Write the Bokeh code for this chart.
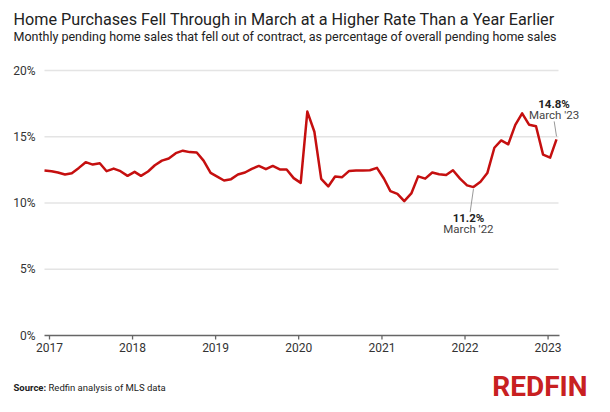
import pandas as pd
from bokeh.plotting import figure
from bokeh.models import Label, Range1d
from bokeh.core.properties import value
from bokeh.embed import file_html
from bokeh.resources import INLINE

# ---------------- data ----------------
start_month = "2017-01-01"
fallout_pct = [
    12.45, 12.40, 12.30, 12.15, 12.25, 12.65, 13.08, 12.90, 13.00, 12.40, 12.60, 12.40,  # 2017
    12.05, 12.35, 12.05, 12.38, 12.85, 13.20, 13.36, 13.76, 13.95, 13.84, 13.81, 13.20,  # 2018
    12.27, 11.97, 11.70, 11.80, 12.15, 12.30, 12.58, 12.80, 12.55, 12.80, 12.53, 12.53,  # 2019
    11.88, 11.52, 16.90, 15.38, 11.82, 11.25, 12.00, 11.95, 12.42, 12.46, 12.46, 12.47,  # 2020
    12.65, 11.83, 10.90, 10.69, 10.14, 10.72, 12.01, 11.84, 12.30, 12.17, 12.11, 12.47,  # 2021
    11.84, 11.33, 11.20, 11.61, 12.26, 14.17, 14.72, 14.43, 15.90, 16.77, 15.90, 15.79,  # 2022
    13.65, 13.42, 14.80,                                                                  # 2023
]
year_ticks = [2017, 2018, 2019, 2020, 2021, 2022, 2023]
y_ticks = [0, 5, 10, 15, 20]
y_tick_labels = ["0%", "5%", "10%", "15%", "20%"]
highlight_idx = [62, 74]   # March '22, March '23

title_text = "Home Purchases Fell Through in March at a Higher Rate Than a Year Earlier"
subtitle_text = "Monthly pending home sales that fell out of contract, as percentage of overall pending home sales"
source_bold = "Source:"
source_text = "Redfin analysis of MLS data"
brand_text = "REDFIN"

months = pd.date_range(start_month, periods=len(fallout_pct), freq="MS")
ms = [t.timestamp() * 1000 for t in months]

FONT = "Roboto"
RED = "#c50f0f"
W, H = 594, 404

# ---------------- geometry (pixels from the figure's top-left) ----------------
X0_PX, X1_PX = 44, 556     # first / last month
Y0_PX, Y20_PX = 335, 70    # 0% / 20% gridlines
ppu = (Y0_PX - Y20_PX) / 20.0
span = ms[-1] - ms[0]
px_x = span / (X1_PX - X0_PX)
px_y = 1.0 / ppu

x_start = ms[0] - X0_PX * px_x
x_end = ms[0] + (W - X0_PX) * px_x
y_start = -(H - Y0_PX) / ppu
y_end = 20 + Y20_PX / ppu

# year ticks sit a few pixels after Jan 1 as in the original
year_ms = [pd.Timestamp(f"{y}-01-01").timestamp() * 1000 + 5 * px_x for y in year_ticks]

p = figure(width=W, height=H, output_backend="svg", toolbar_location=None,
           x_axis_location=None, y_axis_location=None,
           x_range=Range1d(x_start, x_end), y_range=Range1d(y_start, y_end),
           min_border_left=0, min_border_right=0, min_border_top=0, min_border_bottom=0)
p.outline_line_color = None
p.background_fill_color = "white"
p.border_fill_color = "white"
p.grid.visible = False

# horizontal gridlines (ending at the last month)
grid_y = [t for t in y_ticks if t > 0]
p.segment(x0=[ms[0]] * len(grid_y), y0=grid_y, x1=[ms[-1] + 2 * px_x] * len(grid_y), y1=grid_y,
          line_color="#e4e4e4", line_width=1.5)

# y tick labels
p.text(x=[ms[0]] * len(y_ticks), y=y_ticks, text=y_tick_labels,
       x_offset=-9, text_align="right", text_baseline="middle",
       text_font=value(FONT), text_font_size="12px", text_color="#333333")

# x axis: baseline, ticks, labels
p.segment(x0=[ms[0]], y0=[0], x1=[ms[-1] + 3 * px_x], y1=[0],
          line_color="#666666", line_width=1.3)
p.segment(x0=year_ms, y0=[0] * len(year_ms), x1=year_ms, y1=[-4 * px_y] * len(year_ms),
          line_color="#666666", line_width=1.3)
p.text(x=year_ms, y=[-7 * px_y] * len(year_ms), text=[str(y) for y in year_ticks],
       text_align="center", text_baseline="top",
       text_font=value(FONT), text_font_size="12px", text_color="#333333")

# data line
p.line(ms, fallout_pct, line_color=RED, line_width=2.5, line_join="round")

# annotations
for i, above in [(highlight_idx[0], False), (highlight_idx[1], True)]:
    xv, yv = ms[i], fallout_pct[i]
    if above:
        x0, y0, x1, y1 = xv - 2.3 * px_x, yv + 18 * px_y, xv, yv + 3 * px_y
        dx, dy_val, dy_lbl = -2.5, 35, 24
    else:
        x0, y0, x1, y1 = xv, yv - 2 * px_y, xv - 3.3 * px_x, yv - 25 * px_y
        dx, dy_val, dy_lbl = -5, -30.5, -41.5
    p.segment(x0=[x0], y0=[y0], x1=[x1], y1=[y1], line_color="#999999", line_width=1)
    p.add_layout(Label(x=xv, y=yv, x_offset=dx, y_offset=dy_val, text=f"{yv:.1f}%",
                       text_align="center", text_baseline="middle",
                       text_font=FONT, text_font_size="11.5px", text_font_style="bold",
                       text_color="#222222"))
    p.add_layout(Label(x=xv, y=yv, x_offset=dx, y_offset=dy_lbl,
                       text=months[i].strftime("%B '%y"),
                       text_align="center", text_baseline="middle",
                       text_font=FONT, text_font_size="11.5px", text_color="#444444"))


def screen_label(x, y_from_top, text, size, **kw):
    p.add_layout(Label(x=x, y=H - y_from_top, x_units="screen", y_units="screen",
                       text=text, text_font=FONT, text_font_size=size,
                       text_baseline="middle", **kw))


# title / subtitle (y = vertical centre of the capitals)
screen_label(13, 18.5, title_text, "16.2px", text_color="#222222")
screen_label(13, 35.5, subtitle_text, "12.5px", text_color="#222222")
# footer
screen_label(13, 386.5, source_bold, "9.5px", text_color="#222222", text_font_style="bold")
screen_label(48, 386.5, source_text, "9.5px", text_color="#222222")
screen_label(587, 386, brand_text, "28px", text_color="#c82021",
             text_font_style="bold", text_align="right")

open("out.html", "w").write(file_html(p, INLINE))
